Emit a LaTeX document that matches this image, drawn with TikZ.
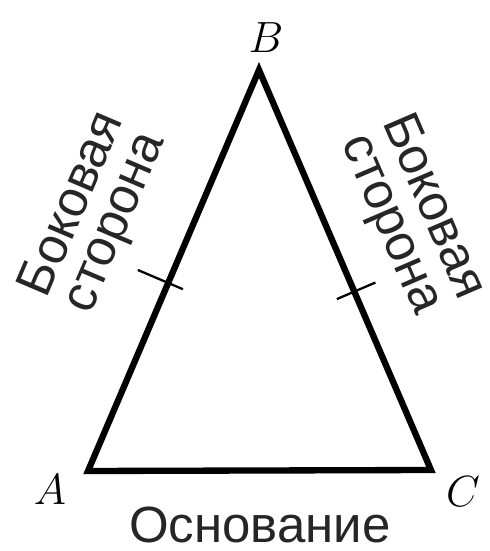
\documentclass[tikz,border=0pt]{standalone}
\usepackage{fontspec}
\setsansfont{Liberation Sans}
\usetikzlibrary{calc}

\begin{document}
\begin{tikzpicture}[x=0.02cm,y=0.02cm,
  side/.style={line width=3.6pt,line join=miter},
  tick/.style={line width=1.3pt},
  vlabel/.style={font=\fontsize{31}{31}\selectfont,inner sep=0pt},
  slabel/.style={font=\sffamily\fontsize{29}{26}\selectfont,text=black!85,align=center,inner sep=0pt}]
\useasboundingbox (0,0) rectangle (490,551);
% isosceles triangle
\coordinate (A) at (88,80);
\coordinate (B) at (259,481);
\coordinate (C) at (431,81);
\draw[side] (A) -- (B) -- (C) -- cycle;
% equal-side ticks
\coordinate (tl) at ($(A)!0.469!(B)$);
\coordinate (tr) at ($(B)!0.554!(C)$);
\draw[tick] ($(tl)!0.66cm!90:(B)$) -- ($(tl)!0.32cm!-90:(B)$);
\draw[tick] ($(tr)!0.46cm!90:(C)$) -- ($(tr)!0.38cm!-90:(C)$);
% vertex names
\node[vlabel,anchor=base] (la) at (50,46) {$A$};
\node[vlabel,anchor=base] (lb) at (266,498) {$B$};
\node[vlabel,anchor=base] (lc) at (463,44) {$C$};
% side names
\node[slabel,rotate=66.9] (sideab) at (95,337) {Боковая\\сторона};
\node[slabel,rotate=-66.7] (sidebc) at (411,335) {Боковая\\сторона};
\node[slabel,anchor=base] (base) at (260,9) {Основание};
\end{tikzpicture}
\end{document}
